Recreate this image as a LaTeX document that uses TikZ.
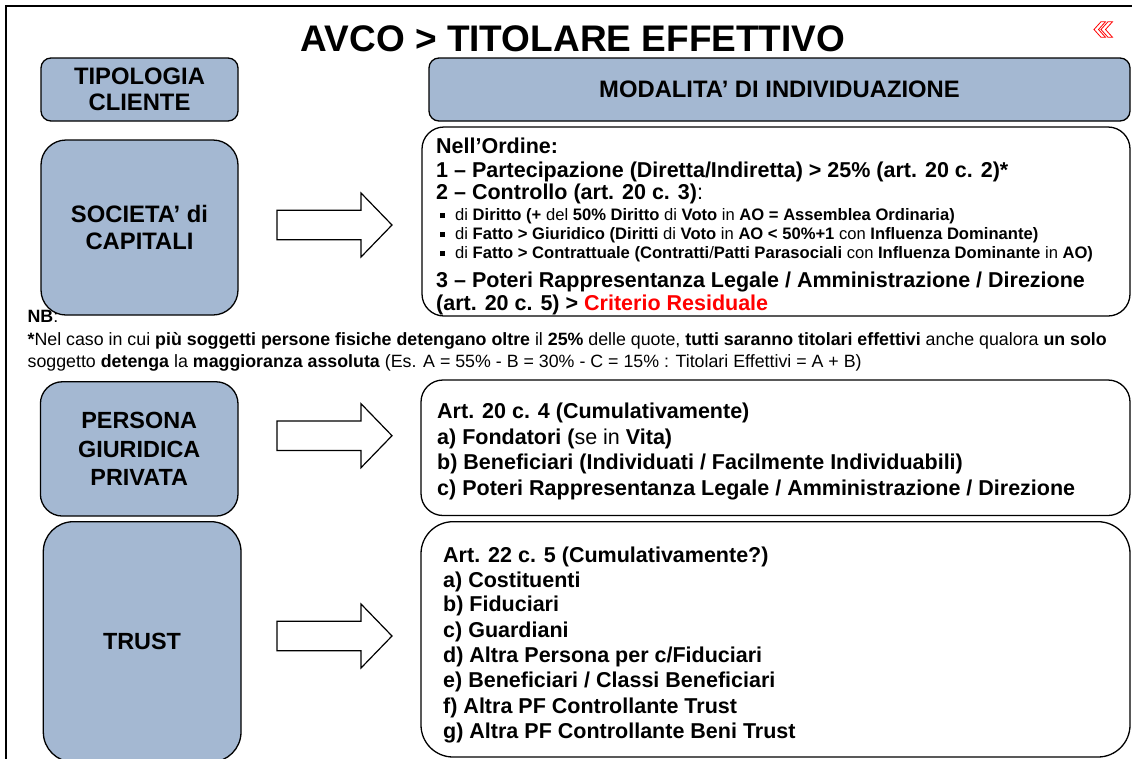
\documentclass[tikz,border=0pt]{standalone}
\usepackage{fontspec}
\setmainfont{Liberation Sans}
\usetikzlibrary{calc}
\definecolor{boxblue}{HTML}{A4B8D2}
\newcommand\fsMain{\fontsize{21.5pt}{25.5pt}\selectfont}
\newcommand\fsSmall{\fontsize{16.6pt}{18pt}\selectfont}
\newcommand\fsNB{\fontsize{17.8pt}{22pt}\selectfont}
\newcommand\fsTitle{\fontsize{37pt}{44pt}\selectfont}
\newcommand\fsLbl{\fontsize{23.8pt}{27pt}\selectfont}
\begin{document}
\begin{tikzpicture}[x=1pt,y=-1pt,
  bluebox/.style={draw=black, line width=1.3pt, fill=boxblue, align=center, inner sep=0pt},
  whitebox/.style={draw=black, line width=1.3pt, fill=white, inner sep=0pt},
  txt/.style={anchor=base west, inner sep=0pt},
  barrow/.style={draw=black, line width=1.2pt, fill=white, line join=miter},
  chev/.style={draw=red, line width=0.8pt, fill=white, line join=miter},
]
\path[use as bounding box, clip] (0,0) rectangle (1132,758);
\fill[white] (0,0) rectangle (1132,758);

% frame
\draw[line width=2pt] (6,770) -- (6,6) -- (1140,6);

% title
\node[anchor=base, inner sep=0pt, font=\fsTitle\bfseries] (title) at (573,51.5) {AVCO > TITOLARE EFFETTIVO};
\draw[chev] (1101,29.5) -- (1108,21.7) -- (1112.5,21.7) -- (1105.5,29.5) -- (1112.5,37.3) -- (1108,37.3) -- cycle;
\draw[chev] (1094,29.5) -- (1101,21.7) -- (1105.5,21.7) -- (1098.5,29.5) -- (1105.5,37.3) -- (1101,37.3) -- cycle;

% header boxes
\node[bluebox, rounded corners=10pt, minimum width=197pt, minimum height=63pt,
  font={\bfseries\fontsize{23.8pt}{25.4pt}\selectfont}] (tipo) at (139.5,89.5) {TIPOLOGIA\\CLIENTE};
\node[bluebox, rounded corners=10pt, minimum width=701pt, minimum height=63pt,
  font={\bfseries\fsLbl}] (moda) at (779.5,89.5) {MODALITA’ DI INDIVIDUAZIONE};

% left boxes
\node[bluebox, rounded corners=25pt, minimum width=197pt, minimum height=175pt,
  font={\bfseries\fontsize{23.8pt}{27pt}\selectfont}] (soc) at (139.5,227.5) {SOCIETA’ di\\CAPITALI};
\node[bluebox, rounded corners=22pt, minimum width=197.6pt, minimum height=134.3pt,
  font={\bfseries\fontsize{23.4pt}{28.3pt}\selectfont}] (pers) at (139.2,448.9) {PERSONA\\GIURIDICA\\PRIVATA};
\node[bluebox, rounded corners=30pt, minimum width=197.7pt, minimum height=240.3pt] (trust) at (142.15,641.85) {};
\node[anchor=center, inner sep=0pt, font=\bfseries\fontsize{23.4pt}{27pt}\selectfont] (trustlbl) at (142,641.8) {TRUST};

% right boxes
\node[whitebox, rounded corners=22pt, minimum width=708pt, minimum height=189pt] (r1) at (776,221.5) {};
\node[whitebox, rounded corners=22pt, minimum width=709pt, minimum height=135.5pt] (r2) at (775.5,447.75) {};
\node[whitebox, rounded corners=32pt, minimum width=709pt, minimum height=235.3pt] (r3) at (775.5,639.35) {};

% block arrows
\coordinate (a1) at (277,225);
\coordinate (a2) at (277,435.7);
\coordinate (a3) at (277,636);
\foreach \a in {a1,a2,a3}{
  \draw[barrow] (\a) ++(0,-14.75) -- ++(84,0) -- ++(0,-17.25) -- ++(31,32) -- ++(-31,32) -- ++(0,-17.25) -- ++(-84,0) -- cycle;
}

% box 1 text
\node[txt, font=\fsMain\bfseries] (r1a) at (436,153.7) {Nell’Ordine:};
\node[txt, font=\fsMain\bfseries] (r1b) at (436,177) {1 – Partecipazione (Diretta/Indiretta) > 25\% (art. 20 c. 2)*};
\node[txt, font=\fsMain] (r1c) at (436,199.4) {\textbf{2 – Controllo (art. 20 c. 3)}:};
\fill (440,212.5) rectangle (445,217.5);
\fill (440,231.5) rectangle (445,236.5);
\fill (440,251) rectangle (445,256);
\node[txt, font=\fsSmall] (r1d) at (455,220) {di \textbf{Diritto (+} del \textbf{50\% Diritto} di \textbf{Voto} in \textbf{AO = Assemblea Ordinaria)}};
\node[txt, font=\fsSmall] (r1e) at (455,239) {di \textbf{Fatto > Giuridico (Diritti} di \textbf{Voto} in \textbf{AO < 50\%+1} con \textbf{Influenza Dominante)}};
\node[txt, font=\fsSmall] (r1f) at (455,258.5) {di \textbf{Fatto > Contrattuale (Contratti}/\textbf{Patti Parasociali} con \textbf{Influenza Dominante} in \textbf{AO)}};
\node[txt, font=\fsMain\bfseries] (r1g) at (436,287) {3 – Poteri Rappresentanza Legale / Amministrazione / Direzione};
\node[txt, font=\fsMain\bfseries] (r1h) at (436,310.4) {(art. 20 c. 5) > \textcolor{red}{Criterio Residuale}};

% NB
\node[txt, font=\fsNB] (nb0) at (27.4,322.5) {\textbf{NB}:};
\node[txt, font=\fsNB] (nb1) at (27.4,345.5) {\textbf{*}Nel caso in cui \textbf{più soggetti persone fisiche detengano oltre} il \textbf{25\%} delle quote, \textbf{tutti saranno titolari effettivi} anche qualora \textbf{un solo}};
\node[txt, font=\fsNB] (nb2) at (27.4,367.8) {soggetto \textbf{detenga} la \textbf{maggioranza assoluta} (Es. A = 55\% - B = 30\% - C = 15\% : Titolari Effettivi = A + B)};

% box 2 text
\node[txt, font=\fsMain\bfseries] (r2a) at (437,418.4) {Art. 20 c. 4 (Cumulativamente)};
\node[txt, font=\fsMain] (r2b) at (437,444.4) {\textbf{a) Fondatori (}se in \textbf{Vita)}};
\node[txt, font=\fsMain\bfseries] (r2c) at (437,469.4) {b) Beneficiari (Individuati / Facilmente Individuabili)};
\node[txt, font=\fsMain\bfseries] (r2d) at (437,495) {c) Poteri Rappresentanza Legale / Amministrazione / Direzione};

% box 3 text
\node[txt, font=\fsMain\bfseries] (r3a) at (443,562.7) {Art. 22 c. 5 (Cumulativamente?)};
\node[txt, font=\fsMain\bfseries] (r3b) at (443,587) {a) Costituenti};
\node[txt, font=\fsMain\bfseries] (r3c) at (443,611.7) {b) Fiduciari};
\node[txt, font=\fsMain\bfseries] (r3d) at (443,637) {c) Guardiani};
\node[txt, font=\fsMain\bfseries] (r3e) at (443,662.7) {d) Altra Persona per c/Fiduciari};
\node[txt, font=\fsMain\bfseries] (r3f) at (443,687.7) {e) Beneficiari / Classi Beneficiari};
\node[txt, font=\fsMain\bfseries] (r3g) at (443,713.4) {f) Altra PF Controllante Trust};
\node[txt, font=\fsMain\bfseries] (r3h) at (443,738.4) {g) Altra PF Controllante Beni Trust};
\end{tikzpicture}
\end{document}
